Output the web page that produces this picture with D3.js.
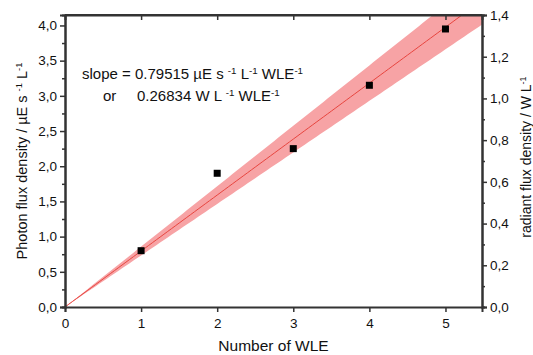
<!DOCTYPE html>
<html>
<head>
<meta charset="utf-8">
<script src="https://cdn.jsdelivr.net/npm/d3@7"></script>
<style>
  body { margin: 0; background: #fff; }
  text { font-family: "Liberation Sans", Arial, sans-serif; fill: #111; }
</style>
</head>
<body>
<div id="chart"></div>
<script>
// measured points
var wle = [1, 2, 3, 4, 5];
var photonFlux = [0.80, 1.90, 2.25, 3.15, 3.95];
var slope = 0.79515;
var slopeW = 0.26834;
var bandHalf = 0.063;   // confidence band half-width of the slope
var xTicks = [0, 1, 2, 3, 4, 5];
var yTicks = [0, 0.5, 1, 1.5, 2, 2.5, 3, 3.5, 4];
var yRightTicks = [0, 0.2, 0.4, 0.6, 0.8, 1.0, 1.2, 1.4];

var width = 533, height = 355;
var margin = {top: 15, right: 51, bottom: 48, left: 65};
var w = width - margin.left - margin.right;
var h = height - margin.top - margin.bottom;

var svg = d3.select("#chart").append("svg")
    .attr("width", width)
    .attr("height", height);

var g = svg.append("g")
    .attr("transform", "translate(" + margin.left + "," + margin.top + ")");

var x = d3.scaleLinear().domain([0, 5.48]).range([0, w]);
var yMax = 1.4 * slope / slopeW;
var y = d3.scaleLinear().domain([0, yMax]).range([h, 0]);
var y2 = d3.scaleLinear().domain([0, 1.4]).range([h, 0]);

g.append("clipPath").attr("id", "clip")
  .append("rect").attr("width", w).attr("height", h);

var xs = d3.range(0, 5.5001, 0.05);
var band = d3.area()
    .x(d => x(d))
    .y0(d => y(d * (slope - bandHalf)))
    .y1(d => y(d * (slope + bandHalf)));

var plot = g.append("g").attr("clip-path", "url(#clip)");
plot.append("path")
    .datum(xs)
    .attr("fill", "#f7a3a5")
    .attr("d", band);

plot.append("path")
    .datum(xs)
    .attr("fill", "none")
    .attr("stroke", "#e8453f")
    .attr("stroke-width", 1)
    .attr("d", d3.line().x(d => x(d)).y(d => y(d * slope)));

g.selectAll("rect.pt")
    .data(wle)
    .enter()
    .append("rect")
    .attr("class", "pt")
    .attr("x", (d, i) => x(d) - 3.5)
    .attr("y", (d, i) => y(photonFlux[i]) - 3.5)
    .attr("width", 7)
    .attr("height", 7)
    .attr("fill", "#000");

function fmt(n) { return d3.format(".1f")(n).replace(".", ","); }

// bottom axis
g.append("g")
    .attr("transform", "translate(0," + h + ")")
    .call(d3.axisBottom(x).tickValues(xTicks).tickFormat(d3.format("d")).tickSize(5).tickPadding(6));
// top axis, ticks pointing in
g.append("g")
    .call(d3.axisTop(x).tickValues(xTicks.slice(1)).tickFormat("").tickSize(-5));
// left axis
g.append("g")
    .call(d3.axisLeft(y).tickValues(yTicks).tickFormat(fmt).tickSize(5).tickPadding(3));
g.append("g")
    .call(d3.axisLeft(y).tickValues(d3.range(0.25, 4.1, 0.5)).tickFormat("").tickSize(3));
// right axis
g.append("g")
    .attr("transform", "translate(" + w + ",0)")
    .call(d3.axisRight(y2).tickValues(yRightTicks).tickFormat(fmt).tickSize(5).tickPadding(3));
g.append("g")
    .attr("transform", "translate(" + w + ",0)")
    .call(d3.axisRight(y2).tickValues(d3.range(0.1, 1.4, 0.2)).tickFormat("").tickSize(3));

g.selectAll(".domain, .tick line").attr("stroke", "#333").attr("stroke-width", 1.5);
g.selectAll(".tick text").style("font-size", "13.5px").attr("fill", "#111");
g.selectAll(".domain").attr("stroke-width", 2);

// frame top
g.append("line").attr("x1", 0).attr("x2", w).attr("y1", 0).attr("y2", 0)
    .attr("stroke", "#333").attr("stroke-width", 2);

// axis titles
svg.append("text")
    .attr("x", margin.left + w / 2)
    .attr("y", 351)
    .attr("text-anchor", "middle")
    .style("font-size", "15.5px")
    .text("Number of WLE");

function supText(sel, parts) {
  parts.forEach(function (p) {
    var t = sel.append("tspan").text(p[0]);
    if (p[1]) t.attr("baseline-shift", "super").style("font-size", "0.65em");
  });
}

var lt = svg.append("text")
    .attr("transform", "translate(27,161) rotate(-90)")
    .attr("text-anchor", "middle")
    .style("font-size", "14.5px");
supText(lt, [["Photon flux density / µE s "], ["-1", 1], [" L"], ["-1", 1]]);

var rt = svg.append("text")
    .attr("transform", "translate(531,157) rotate(-90)")
    .attr("text-anchor", "middle")
    .style("font-size", "14px");
supText(rt, [["radiant flux density / W L"], ["-1", 1]]);

// slope annotation
var a1 = svg.append("text").attr("x", 82).attr("y", 79).style("font-size", "15px");
supText(a1, [["slope = " + slope + " µE s "], ["-1", 1], [" L"], ["-1", 1], [" WLE"], ["-1", 1]]);
svg.append("text").attr("x", 103).attr("y", 101).style("font-size", "15px").text("or");
var a2 = svg.append("text").attr("x", 137).attr("y", 101).style("font-size", "15px");
supText(a2, [[slopeW + " W L "], ["-1", 1], [" WLE"], ["-1", 1]]);
</script>
</body>
</html>
